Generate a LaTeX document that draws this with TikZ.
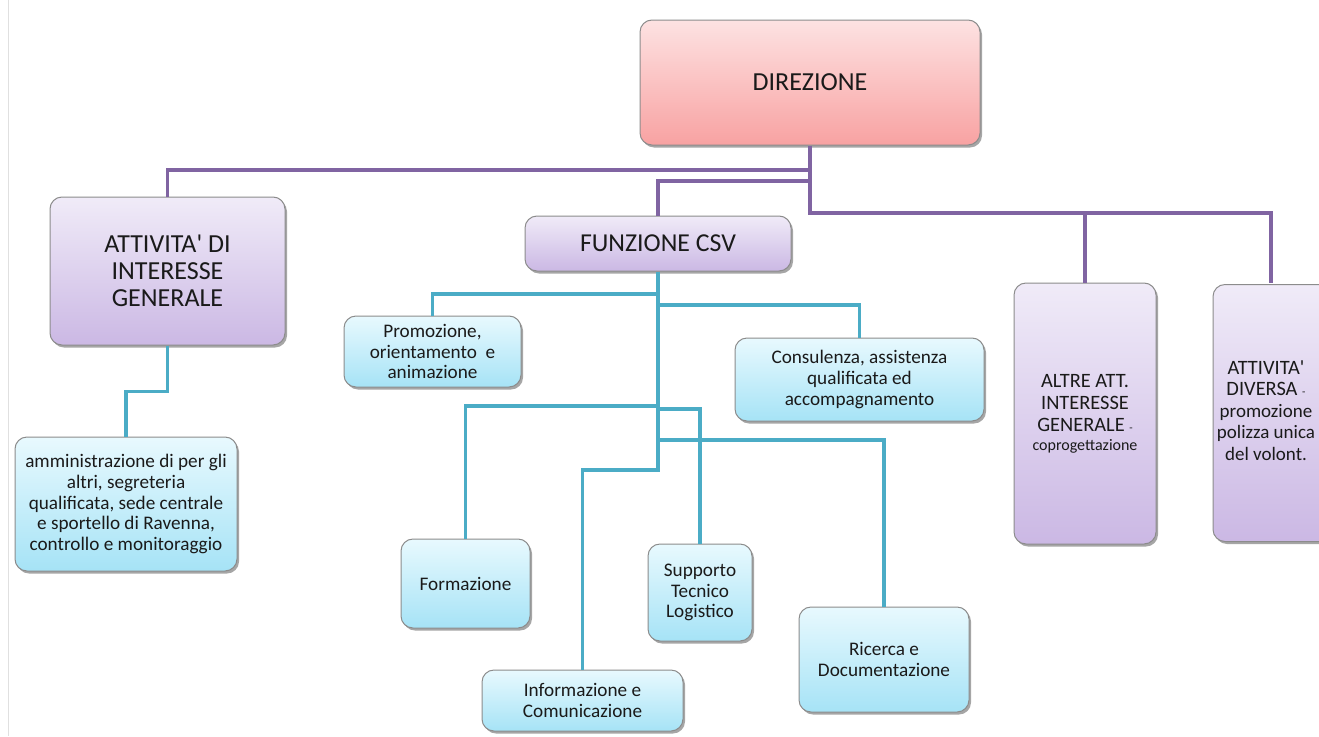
\documentclass[tikz,border=0pt]{standalone}
\usepackage{fontspec}
\setmainfont{Carlito}
\usetikzlibrary{shadows}
\definecolor{pinkT}{HTML}{FDE2E2}
\definecolor{pinkB}{HTML}{F8A2A2}
\definecolor{lavT}{HTML}{F0EBF8}
\definecolor{lavB}{HTML}{CBB8E4}
\definecolor{bluT}{HTML}{E8F9FE}
\definecolor{bluB}{HTML}{A6E3F6}
\definecolor{plin}{HTML}{8064A2}
\definecolor{tlin}{HTML}{4BACC6}
\definecolor{bord}{HTML}{8C8C8C}
\definecolor{txt}{HTML}{1A1A1A}
\newcommand{\apo}{\textquotesingle}
\tikzset{
  basebox/.style={draw=bord, line width=1pt, rounded corners=12pt, align=center, inner sep=0pt, text=txt,
    drop shadow={shadow xshift=2pt, shadow yshift=-2.5pt, opacity=0.35, fill=black}},
  pinkbox/.style={basebox, top color=pinkT, bottom color=pinkB},
  lavbox/.style={basebox, top color=lavT, bottom color=lavB},
  blubox/.style={basebox, top color=bluT, bottom color=bluB, font=\fontsize{19.2}{20.8}\selectfont},
  pline/.style={draw=plin, line width=3.5pt},
  tline/.style={draw=tlin, line width=3.5pt},
}
\begin{document}
\begin{tikzpicture}[x=1pt,y=-1pt]
\useasboundingbox (0,0) rectangle (1319,736);
\fill[white] (0,0) rectangle (1319,736);
\draw[black!12, line width=1pt] (8,0) -- (8,736);

% nodes
\node[pinkbox, minimum width=340pt, minimum height=125pt, font=\fontsize{26}{27}\selectfont] (dir) at (810,82.5) {DIREZIONE};
\node[lavbox, minimum width=235pt, minimum height=148pt, font=\fontsize{26}{27}\selectfont] (aig) at (167.5,271) {ATTIVITA\apo{} DI\\INTERESSE\\GENERALE};
\node[lavbox, minimum width=266pt, minimum height=55pt, font=\fontsize{25.8}{26}\selectfont] (csv) at (658,243.5) {FUNZIONE CSV};
\node[lavbox, minimum width=142pt, minimum height=261pt, font=\fontsize{20.4}{22}\selectfont] (altre) at (1085,413.5) {ALTRE ATT.\\INTERESSE\\GENERALE {\fontsize{11}{11}\selectfont -}\\[-3pt]{\fontsize{16}{17}\selectfont coprogettazione}};
\node[basebox, top color=lavT, bottom color=lavB, align=none, minimum width=118pt, minimum height=257pt, font=\fontsize{20.4}{21.5}\selectfont] (div) at (1272,413) {\hspace*{-12pt}\begin{tabular}{@{}c@{}}ATTIVITA\apo\\DIVERSA {\fontsize{11}{11}\selectfont -}\\{\fontsize{19}{21.5}\selectfont promozione}\\{\fontsize{19}{21.5}\selectfont polizza unica}\\{\fontsize{19}{21.5}\selectfont del volont.}\end{tabular}};

\node[blubox, minimum width=222pt, minimum height=134pt] (amm) at (126,504) {amministrazione di per gli\\altri, segreteria\\qualificata, sede centrale\\e sportello di Ravenna,\\controllo e monitoraggio};
\node[blubox, minimum width=177pt, minimum height=71pt] (prom) at (432.5,351.5) {Promozione,\\orientamento\ \ e\\animazione};
\node[blubox, minimum width=249pt, minimum height=83pt] (cons) at (859.5,379.5) {Consulenza, assistenza\\qualificata ed\\accompagnamento};
\node[blubox, minimum width=129pt, minimum height=89pt] (form) at (465.5,583.5) {Formazione};
\node[blubox, minimum width=104pt, minimum height=97pt] (supp) at (700,592.5) {Supporto\\Tecnico\\Logistico};
\node[blubox, minimum width=170pt, minimum height=105pt] (ric) at (884,659.5) {Ricerca e\\Documentazione};
\node[blubox, minimum width=201pt, minimum height=61pt] (info) at (582.5,700.5) {Informazione e\\Comunicazione};

% purple connectors
\coordinate (divtop) at (1271,283);
\draw[pline] (dir.south) -- (dir.south |- 0,213) -| (altre.north);
\draw[pline] (dir.south |- 0,213) -| (divtop);
\draw[pline] (dir.south |- 0,170) -| (aig.north);
\draw[pline] (dir.south |- 0,181) -| (csv.north);

% teal connectors
\draw[tline] (aig.south) -- ++(0,46) -| (amm.north);
\draw[tline] (csv.south) -- (csv.south |- 0,470) -| (info.north);
\draw[tline] (csv.south |- 0,294) -| (prom.north);
\draw[tline] (csv.south |- 0,305) -| (cons.north);
\draw[tline] (csv.south |- 0,406) -| (form.north);
\draw[tline] (csv.south |- 0,409) -| (supp.north);
\draw[tline] (csv.south |- 0,440) -| (ric.north);
\end{tikzpicture}
\end{document}
